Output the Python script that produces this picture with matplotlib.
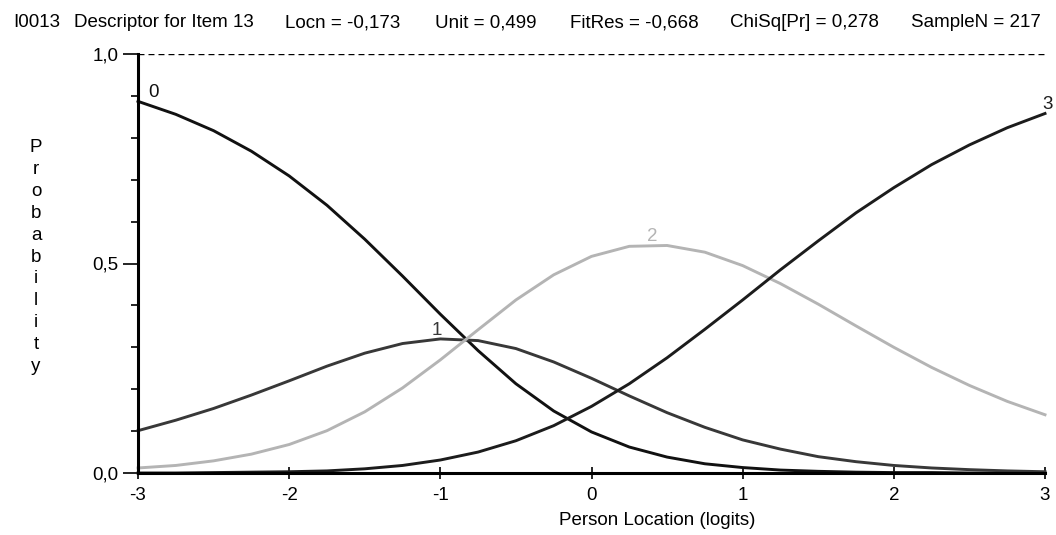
import matplotlib
matplotlib.use("Agg")
import matplotlib.pyplot as plt
from matplotlib.ticker import MultipleLocator, FixedLocator

plt.rcParams['font.family'] = ['Liberation Sans', 'DejaVu Sans']

# person location grid (logits)
x = [-3.0, -2.75, -2.5, -2.25, -2.0, -1.75, -1.5, -1.25, -1.0, -0.75, -0.5, -0.25,
     0.0, 0.25, 0.5, 0.75, 1.0, 1.25, 1.5, 1.75, 2.0, 2.25, 2.5, 2.75, 3.0]

# category probability curves
p0 = [0.887, 0.856, 0.817, 0.768, 0.709, 0.639, 0.558, 0.470, 0.379, 0.292, 0.213, 0.148,
      0.098, 0.062, 0.038, 0.022, 0.013, 0.007, 0.004, 0.002, 0.001, 0.001, 0.000, 0.000, 0.000]
p1 = [0.101, 0.126, 0.154, 0.186, 0.220, 0.255, 0.286, 0.309, 0.320, 0.316, 0.297, 0.265,
      0.226, 0.184, 0.144, 0.109, 0.079, 0.057, 0.039, 0.027, 0.018, 0.012, 0.008, 0.005, 0.003]
p2 = [0.012, 0.018, 0.029, 0.045, 0.068, 0.101, 0.146, 0.203, 0.270, 0.342, 0.413, 0.473,
      0.517, 0.541, 0.543, 0.527, 0.495, 0.452, 0.403, 0.351, 0.300, 0.252, 0.209, 0.171, 0.139]
p3 = [0.000, 0.000, 0.001, 0.002, 0.003, 0.005, 0.010, 0.018, 0.031, 0.050, 0.077, 0.113,
      0.159, 0.213, 0.275, 0.343, 0.413, 0.485, 0.554, 0.621, 0.681, 0.736, 0.783, 0.824, 0.858]

categories = ["0", "1", "2", "3"]
curves = [p0, p1, p2, p3]
colors = ["#111111", "#383838", "#b4b4b4", "#1c1c1c"]
label_dx = [0.1, -0.02, -0.1, 0.02]

header = ["I0013", "Descriptor for Item 13", "Locn = -0,173", "Unit = 0,499",
          "FitRes = -0,668", "ChiSq[Pr] = 0,278", "SampleN = 217"]
header_px = [13, 74, 285, 435, 570, 730, 911]

fs = 13.5
fig = plt.figure(figsize=(10.56, 5.35), dpi=100)
ax = fig.add_axes([138 / 1056, 1 - 473 / 535, 907 / 1056, 419 / 535])

for cat, ys, c, dx in zip(categories, curves, colors, label_dx):
    ax.plot(x, ys, color=c, lw=2.1, clip_on=False, solid_joinstyle='round')
    i = ys.index(max(ys))
    ax.text(x[i] + dx, ys[i], cat, color=c, fontsize=fs, ha='center', va='bottom')

ax.axhline(1.0, color='black', lw=1.0, dashes=(4.3, 2.9))

ax.set_xlim(-3, 3)
ax.set_ylim(0, 1)
for s in ['top', 'right']:
    ax.spines[s].set_visible(False)
ax.spines['left'].set_linewidth(2.2)
ax.spines['bottom'].set_linewidth(2.2)

ax.xaxis.set_major_locator(FixedLocator([-3, -2, -1, 0, 1, 2, 3]))
ax.set_xticklabels(["-3", "-2", "-1", "0", "1", "2", "3"])
ax.yaxis.set_major_locator(FixedLocator([0, 0.5, 1.0]))
ax.set_yticklabels(["0,0", "0,5", "1,0"])
ax.yaxis.set_minor_locator(MultipleLocator(0.1))
ax.tick_params(axis='x', direction='inout', length=9, width=1.2, pad=5.5, labelsize=fs)
ax.tick_params(axis='y', which='major', direction='out', length=10.8, width=1.2, pad=3.5, labelsize=fs)
ax.tick_params(axis='y', which='minor', direction='out', length=5, width=1.2)

ax.set_xlabel("Person Location (logits)", fontsize=fs, va='top')
ax.xaxis.set_label_coords((657 - 138) / 907, -0.093)

fig.text(36 / 1056, 1 - 257 / 535, "\n".join("Probability"), fontsize=fs,
         ha='center', va='center', linespacing=1.37)

for txt, px in zip(header, header_px):
    fig.text(px / 1056, 1 - 27 / 535, txt, fontsize=fs, ha='left', va='baseline')

fig.savefig("out.png", dpi=100)
